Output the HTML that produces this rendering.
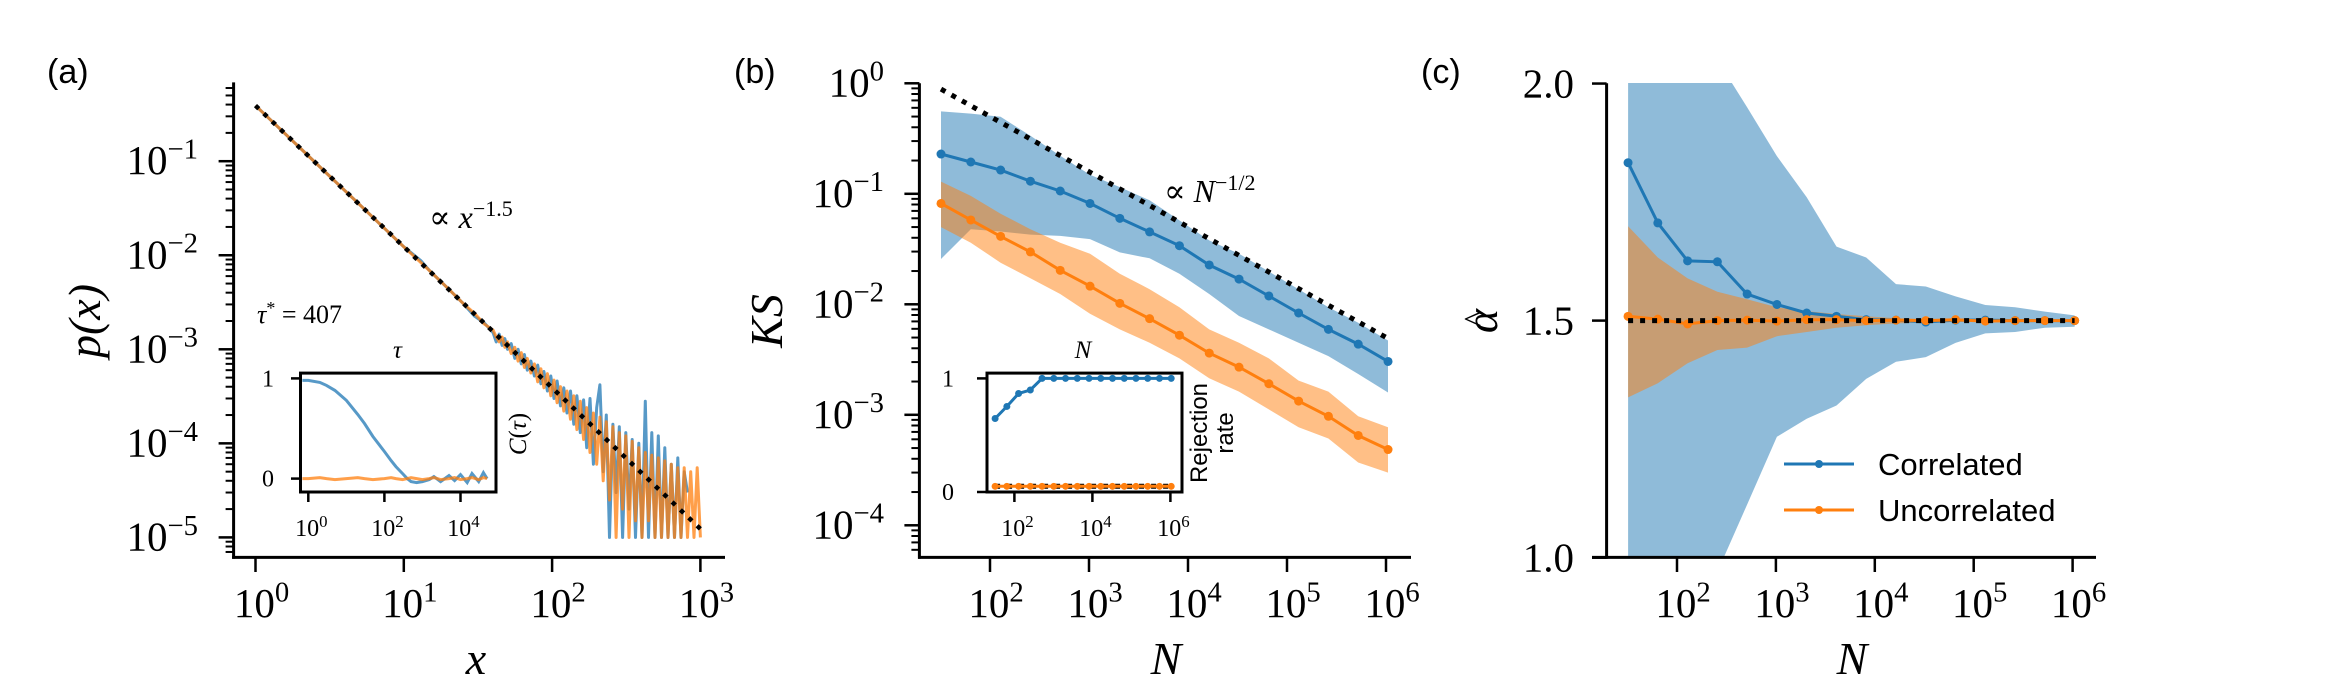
<!DOCTYPE html>
<html><head><meta charset="utf-8">
<style>
html,body{margin:0;padding:0;background:#fff;overflow:hidden;width:2328px;height:698px;}
svg{display:block;}
text{fill:#000;}
.serif{font-family:"Liberation Serif","DejaVu Serif",serif;}
.sans{font-family:"Liberation Sans","DejaVu Sans",sans-serif;}
</style></head>
<body>
<svg id="fig" width="2328" height="698" viewBox="0 0 2328 698" xmlns="http://www.w3.org/2000/svg">
<defs>
<clipPath id="clipA"><rect x="234" y="82" width="491" height="476"/></clipPath>
<clipPath id="clipB"><rect x="920" y="83" width="491" height="475"/></clipPath>
<clipPath id="clipC"><rect x="1607" y="83" width="489" height="475"/></clipPath>
</defs>
</svg>
<script>
// ---------- Panel (a) data ----------
const pX = [1,2,3,5,8,10,13,15,20,25,30,35,40,42,44,46,48,50,53,56,59,62,65,68,72,76,80,84,88,93,98,103,108,114,120,126,133,140,147,155,163,171,180,190,200,210,221,232,244,257,270,284,299,314,330,347,365,384,404,425,447,470,494,520,547,575,605,636,669,704,740,778,818,860,905,951,1000];
const pBlue = [0.39,0.138,0.075,0.0349,0.0172,0.0123,0.0088,0.0068,0.0044,0.0031,0.00225,0.0019,1.5e-3,1.2e-3,1.45e-3,1.1e-3,1.3e-3,1.0e-3,1.15e-3,8.0e-4,1.0e-3,7.0e-4,8.8e-4,6.0e-4,7.5e-4,5.2e-4,6.8e-4,4.3e-4,5.8e-4,3.6e-4,5.2e-4,3.0e-4,4.6e-4,2.5e-4,3.9e-4,2.1e-4,3.6e-4,1.6e-4,3.2e-4,1.3e-4,2.9e-4,9e-5,3.0e-4,6e-5,2.4e-4,4.2e-4,5e-5,2.0e-4,1.0e-5,1.6e-4,3e-5,1.5e-4,1.0e-5,1.3e-4,2e-5,1.1e-4,1.0e-5,1.0e-4,1.0e-5,2.8e-4,1.0e-5,1.3e-4,1.0e-5,1.2e-4,1.0e-5,9e-5,1.0e-5,6e-5,1.0e-5,7e-5,1.0e-5,5e-5,3e-5];
const pOrange = [0.39,0.138,0.075,0.0349,0.0172,0.0123,0.0084,0.0068,0.0044,0.0031,0.0024,0.00185,1.6e-3,1.35e-3,1.2e-3,1.35e-3,1.05e-3,1.2e-3,9.0e-4,1.05e-3,7.5e-4,9.2e-4,6.4e-4,8.0e-4,5.6e-4,7.0e-4,4.5e-4,6.2e-4,3.9e-4,5.5e-4,3.2e-4,4.7e-4,2.7e-4,4.0e-4,2.2e-4,3.6e-4,1.8e-4,3.2e-4,1.4e-4,2.8e-4,1.1e-4,2.4e-4,8e-5,2.1e-4,6e-5,1.9e-4,4e-5,1.7e-4,2.5e-5,1.5e-4,1.0e-5,1.3e-4,2e-5,1.2e-4,1.0e-5,1.05e-4,1.5e-5,9e-5,1.0e-5,8e-5,1.5e-5,7.5e-5,1.0e-5,7e-5,1.0e-5,6.5e-5,1.0e-5,6e-5,1.0e-5,5.5e-5,1.0e-5,5.5e-5,1.0e-5,5e-5,1.0e-5,5.5e-5,1.0e-5];
const fitAX = [1,1000];
const fitAY = [0.39,1.23e-5];
const tauX = [0.7,1,2,3,5,10,20,30,50,100,150,200,300,400,500,700,1000,1500,2000,3000,5000,7000,10000,15000,20000,30000,40000,50000];
const cBlue = [0.98,0.98,0.96,0.93,0.88,0.78,0.64,0.55,0.42,0.27,0.18,0.12,0.05,0.0,-0.03,-0.04,-0.03,-0.01,0.02,-0.03,0.03,-0.02,0.04,-0.04,0.05,-0.03,0.06,0.0];
const cOrange = [0.0,0.0,0.01,0.0,-0.01,0.0,0.01,0.0,-0.01,0.0,0.01,0.0,-0.01,0.0,0.01,0.0,-0.01,0.0,0.01,-0.01,0.0,0.01,-0.01,0.0,0.01,-0.01,0.01,0.0];
const yTicksA = [-1,-2,-3,-4,-5];
const xTicksA = [0,1,2,3];
const tauTicks = [0,2,4];
// ---------- Panel (b)/(c) data ----------
const nVals = [32,64,128,256,512,1024,2048,4096,8192,16384,32768,65536,131072,262144,524288,1048576];
const ksCorr = [0.229,0.194,0.164,0.130,0.106,0.0818,0.060,0.0452,0.0339,0.0227,0.0169,0.0119,0.00835,0.00593,0.00436,0.00304];
const ksCorrHi = [0.557,0.532,0.499,0.335,0.221,0.149,0.115,0.0873,0.0574,0.0379,0.0287,0.0198,0.0137,0.00942,0.00681,0.0047];
const ksCorrLo = [0.0257,0.0478,0.0456,0.0427,0.0416,0.0389,0.0295,0.0261,0.0189,0.0124,0.00783,0.00593,0.00449,0.0034,0.00234,0.00159];
const ksUnc = [0.0818,0.058,0.0412,0.0298,0.0203,0.0146,0.0102,0.00741,0.00525,0.00362,0.0027,0.00191,0.00133,0.00097,0.00065,0.000485];
const ksUncHi = [0.129,0.0957,0.066,0.0478,0.0361,0.0287,0.0189,0.0137,0.00942,0.00593,0.00449,0.00324,0.00204,0.00162,0.00097,0.00077];
const ksUncLo = [0.05,0.0361,0.0238,0.0172,0.0124,0.0082,0.00593,0.00449,0.00324,0.00214,0.00162,0.00112,0.00077,0.00061,0.00037,0.0003];
const ksFitN = [32,1048576];
const ksFit = [0.887,0.0049];
const rejCorr = [0.647,0.753,0.867,0.898,1,1,1,1,1,1,1,1,1,1,1,1];
const rejUnc = [0.05,0.05,0.05,0.05,0.05,0.05,0.05,0.05,0.05,0.05,0.05,0.05,0.05,0.05,0.05,0.05];
const rejRef = [0.05,0.05];
const alphaCorr = [1.833,1.706,1.626,1.624,1.556,1.534,1.516,1.509,1.502,1.501,1.497,1.501,1.501,1.5,1.5,1.5];
const alphaCorrHi = [2.7,2.55,2.4,2.18,1.95,1.847,1.76,1.656,1.633,1.577,1.572,1.551,1.533,1.528,1.519,1.511];
const alphaCorrLo = [0.55,0.69,0.83,0.97,1.112,1.255,1.293,1.321,1.377,1.413,1.423,1.453,1.473,1.476,1.485,1.487];
const alphaUnc = [1.509,1.503,1.493,1.5,1.501,1.499,1.502,1.502,1.5,1.501,1.5,1.502,1.499,1.5,1.5,1.5];
const alphaUncHi = [1.699,1.633,1.589,1.561,1.545,1.528,1.52,1.514,1.509,1.505,1.503,1.502,1.501,1.501,1.5,1.5];
const alphaUncLo = [1.338,1.368,1.41,1.438,1.443,1.467,1.476,1.485,1.49,1.494,1.496,1.497,1.498,1.499,1.499,1.5];
const alphaTrue = [1.5,1.5];
const yTicksB = [0,-1,-2,-3,-4];
const xTicksN = [2,3,4,5,6];
const insetNTicks = [2,4,6];
const yTicksC = [2.0,1.5,1.0];

const BLUE='#1f77b4', ORANGE='#ff7f0e';
const svg=document.getElementById('fig');
const NS='http://www.w3.org/2000/svg';
const L=Math.log10;
function mk(tag,attrs,parent){const e=document.createElementNS(NS,tag);for(const k in attrs)e.setAttribute(k,attrs[k]);(parent||svg).appendChild(e);return e;}
function poly(xs,ys,fx,fy){return xs.map((v,i)=>i<ys.length?fx(v).toFixed(1)+','+fy(ys[i]).toFixed(1):null).filter(Boolean).join(' ');}
function band(xs,lo,hi,fx,fy){const a=xs.map((v,i)=>fx(v).toFixed(1)+','+fy(hi[i]).toFixed(1));const b=xs.map((v,i)=>fx(v).toFixed(1)+','+fy(lo[i]).toFixed(1)).reverse();return a.concat(b).join(' ');}
function pow(parent,x,y,base,exp,size,anchor,cls){const t=mk('text',{x:x,y:y,'font-size':size,'text-anchor':anchor,class:cls||'serif'},parent);t.appendChild(document.createTextNode(base));const s=mk('tspan',{dy:-size*0.38,'font-size':size*0.7},t);s.textContent=exp;return t;}

// scales
const xA=v=>255.5+148.3*L(v), yA=v=>161.2-94.05*(L(v)+1);
const xB=n=>990+99*(L(n)-2), yB=v=>83.3-110.5*L(v);
const xC=n=>1677+98.9*(L(n)-2), yC=a=>320.6-(a-1.5)*474.1;
const yCc=a=>yC(Math.max(0.95,Math.min(2.05,a)));
const xIA=t=>308.3+38.05*L(t), yIA=c=>478.6-100.2*c;
const xIB=n=>1014.4+39*(L(n)-2), yIB=r=>492-113.6*r;
const XTL_Y=617;

// ================= Panel (a) =================
const gA=mk('g',{});


const lblA=mk('text',{x:47,y:83,'font-size':34,class:'sans'},gA);lblA.textContent='(a)';

const gAd=mk('g',{'clip-path':'url(#clipA)'},gA);
const lb=mk('polyline',{points:poly(pX,pBlue,xA,yA),fill:'none',stroke:BLUE,'stroke-width':3,'stroke-opacity':0.75,'stroke-linejoin':'round'},gAd);

const lo=mk('polyline',{points:poly(pX,pOrange,xA,yA),fill:'none',stroke:ORANGE,'stroke-width':3,'stroke-opacity':0.75,'stroke-linejoin':'round'},gAd);

const fa=mk('polyline',{points:poly(fitAX,fitAY,xA,yA),fill:'none',stroke:'#000','stroke-width':4.5,'stroke-dasharray':'4.5 7'},gAd);

mk('line',{x1:233.6,y1:82.4,x2:233.6,y2:558.8,stroke:'#000','stroke-width':3},gA);
mk('line',{x1:232.1,y1:557.4,x2:725,y2:557.4,stroke:'#000','stroke-width':3},gA);
for(let d=-6;d<=0;d++){for(let m=1;m<10;m++){const v=m*Math.pow(10,d);const y=yA(v);if(y<82||y>557.5)continue;mk('line',{x1:233.6,x2:233.6-(m===1?15:8),y1:y,y2:y,stroke:'#000','stroke-width':m===1?2.5:2},gA);}}
yTicksA.forEach(e=>{const t=pow(gA,198,yA(Math.pow(10,e))+13,'10','−'+(-e),41,'end');});
xTicksA.forEach(e=>{const x=xA(Math.pow(10,e));mk('line',{x1:x,x2:x,y1:557.4,y2:572,stroke:'#000','stroke-width':2.5},gA);const t=pow(gA,x+6,XTL_Y,'10',String(e),41,'middle');});
const yla=mk('text',{x:0,y:0,'font-size':46,'font-style':'italic',class:'serif','text-anchor':'middle',transform:'translate(100,321) rotate(-90)'},gA);yla.textContent='p(x)';

const xla=mk('text',{x:476,y:674,'font-size':46,'font-style':'italic',class:'serif','text-anchor':'middle'},gA);xla.textContent='x';

const ann=mk('text',{x:429,y:228,'font-size':32,class:'serif'},gA);ann.textContent='∝ ';const at=mk('tspan',{'font-style':'italic'},ann);at.textContent='x';const as=mk('tspan',{dy:-12,'font-size':22},ann);as.textContent='−1.5';

const tst=mk('text',{x:257,y:323,'font-size':26,class:'serif'},gA);const tt1=mk('tspan',{'font-style':'italic'},tst);tt1.textContent='τ';const tt2=mk('tspan',{dy:-9,'font-size':18},tst);tt2.textContent='*';const tt3=mk('tspan',{dy:9},tst);tt3.textContent=' = 407';

const gIA=mk('g',{},gA);

mk('rect',{x:300.5,y:373.1,width:195.5,height:118.9,fill:'#fff',stroke:'none'},gIA);
const ib=mk('polyline',{points:poly(tauX,cBlue,xIA,yIA),fill:'none',stroke:BLUE,'stroke-width':3,'stroke-opacity':0.75},gIA);

const io=mk('polyline',{points:poly(tauX,cOrange,xIA,yIA),fill:'none',stroke:ORANGE,'stroke-width':3,'stroke-opacity':0.75},gIA);

mk('rect',{x:300.5,y:373.1,width:195.5,height:118.9,fill:'none',stroke:'#000','stroke-width':3},gIA);
[[1,'1'],[0,'0']].forEach(([v,s])=>{const y=yIA(v);mk('line',{x1:300.5,x2:291,y1:y,y2:y,stroke:'#000','stroke-width':2.5},gIA);const t=mk('text',{x:268,y:y+8,'font-size':24,class:'serif','text-anchor':'middle'},gIA);t.textContent=s;});
tauTicks.forEach(e=>{const x=xIA(Math.pow(10,e));mk('line',{x1:x,x2:x,y1:492,y2:502,stroke:'#000','stroke-width':2.5},gIA);const t=pow(gIA,x+3,536,'10',String(e),24,'middle');});
const tl=mk('text',{x:397.5,y:358,'font-size':25,'font-style':'italic',class:'serif','text-anchor':'middle'},gIA);tl.textContent='τ';

const cl=mk('text',{x:0,y:0,'font-size':25,class:'serif','text-anchor':'middle',transform:'translate(526,434) rotate(-90)'},gIA);
const cl1=mk('tspan',{'font-style':'italic'},cl);cl1.textContent='C';const cl2=mk('tspan',{},cl);cl2.textContent='(';const cl3=mk('tspan',{'font-style':'italic'},cl);cl3.textContent='τ';const cl4=mk('tspan',{},cl);cl4.textContent=')';


// ================= Panel (b) =================
const gB=mk('g',{});

const lblB=mk('text',{x:734,y:83,'font-size':34,class:'sans'},gB);lblB.textContent='(b)';

const gBd=mk('g',{'clip-path':'url(#clipB)'},gB);
const bb=mk('polygon',{points:band(nVals,ksCorrLo,ksCorrHi,xB,yB),fill:BLUE,'fill-opacity':0.5},gBd);

const ob=mk('polygon',{points:band(nVals,ksUncLo,ksUncHi,xB,yB),fill:ORANGE,'fill-opacity':0.5},gBd);

const kf=mk('polyline',{points:poly(ksFitN,ksFit,xB,yB),fill:'none',stroke:'#000','stroke-width':5,'stroke-dasharray':'5 7'},gBd);

[[ksCorr,BLUE,'correlated-ks'],[ksUnc,ORANGE,'uncorrelated-ks']].forEach(([arr,c,n])=>{
  const p=mk('polyline',{points:poly(nVals,arr,xB,yB),fill:'none',stroke:c,'stroke-width':3},gBd);
  
  nVals.forEach((v,i)=>{const d=mk('circle',{cx:xB(v),cy:yB(arr[i]),r:4.5,fill:c},gBd);});
});
mk('line',{x1:919.4,y1:83.3,x2:919.4,y2:558.8,stroke:'#000','stroke-width':3},gB);
mk('line',{x1:918,y1:557.4,x2:1411,y2:557.4,stroke:'#000','stroke-width':3},gB);
for(let d=-5;d<=0;d++){for(let m=1;m<10;m++){const v=m*Math.pow(10,d);const y=yB(v);if(y<83||y>557.5)continue;mk('line',{x1:919.4,x2:919.4-(m===1?15:8),y1:y,y2:y,stroke:'#000','stroke-width':m===1?2.5:2},gB);}}
yTicksB.forEach(e=>{const t=pow(gB,884,yB(Math.pow(10,e))+13,'10',e===0?'0':'−'+(-e),41,'end');});
xTicksN.forEach(e=>{const x=xB(Math.pow(10,e));mk('line',{x1:x,x2:x,y1:557.4,y2:572,stroke:'#000','stroke-width':2.5},gB);const t=pow(gB,x+6,XTL_Y,'10',String(e),41,'middle');});
const ylb=mk('text',{x:0,y:0,'font-size':46,'font-style':'italic',class:'serif','text-anchor':'middle',transform:'translate(782,321) rotate(-90)'},gB);ylb.textContent='KS';

const xlb=mk('text',{x:1166,y:674,'font-size':46,'font-style':'italic',class:'serif','text-anchor':'middle'},gB);xlb.textContent='N';

const annb=mk('text',{x:1164,y:202,'font-size':32,class:'serif'},gB);annb.textContent='∝ ';const bt=mk('tspan',{'font-style':'italic'},annb);bt.textContent='N';const bs=mk('tspan',{dy:-12,'font-size':22},annb);bs.textContent='−1/2';

const gIB=mk('g',{},gB);

mk('rect',{x:987,y:373.1,width:195,height:118.9,fill:'#fff',stroke:'none'},gIB);
const rr=mk('polyline',{points:poly([32,1048576],rejRef,xIB,yIB),fill:'none',stroke:'#000','stroke-width':5,'stroke-dasharray':'5 7'},gIB);

[[rejCorr,BLUE,'correlated-rejection'],[rejUnc,ORANGE,'uncorrelated-rejection']].forEach(([arr,c,n])=>{
  const p=mk('polyline',{points:poly(nVals,arr,xIB,yIB),fill:'none',stroke:c,'stroke-width':3},gIB);
  
  nVals.forEach((v,i)=>{const d=mk('circle',{cx:xIB(v),cy:yIB(arr[i]),r:3.5,fill:c},gIB);});
});
mk('rect',{x:987,y:373.1,width:195,height:118.9,fill:'none',stroke:'#000','stroke-width':3},gIB);
[[1,'1'],[0,'0']].forEach(([v,s])=>{const y=yIB(v);mk('line',{x1:987,x2:977,y1:y,y2:y,stroke:'#000','stroke-width':2.5},gIB);const t=mk('text',{x:948,y:y+8,'font-size':24,class:'serif','text-anchor':'middle'},gIB);t.textContent=s;});
insetNTicks.forEach(e=>{const x=xIB(Math.pow(10,e));mk('line',{x1:x,x2:x,y1:492,y2:502,stroke:'#000','stroke-width':2.5},gIB);const t=pow(gIB,x+3,536,'10',String(e),24,'middle');});
const nl=mk('text',{x:1083,y:358,'font-size':25,'font-style':'italic',class:'serif','text-anchor':'middle'},gIB);nl.textContent='N';

const rl=mk('text',{x:0,y:0,'font-size':24,class:'sans','text-anchor':'middle',transform:'translate(1207,433) rotate(-90)'},gIB);rl.textContent='Rejection';

const rl2=mk('text',{x:0,y:0,'font-size':24,class:'sans','text-anchor':'middle',transform:'translate(1233,433) rotate(-90)'},gIB);rl2.textContent='rate';


// ================= Panel (c) =================
const gC=mk('g',{});

const lblC=mk('text',{x:1421,y:83,'font-size':34,class:'sans'},gC);lblC.textContent='(c)';

const gCd=mk('g',{'clip-path':'url(#clipC)'},gC);
const cb=mk('polygon',{points:band(nVals,alphaCorrLo,alphaCorrHi,xC,yCc),fill:BLUE,'fill-opacity':0.5},gCd);

const cob=mk('polygon',{points:band(nVals,alphaUncLo,alphaUncHi,xC,yCc),fill:ORANGE,'fill-opacity':0.5},gCd);

[[alphaCorr,BLUE,'correlated-alpha'],[alphaUnc,ORANGE,'uncorrelated-alpha']].forEach(([arr,c,n])=>{
  const p=mk('polyline',{points:poly(nVals,arr,xC,yC),fill:'none',stroke:c,'stroke-width':3},gCd);
  
  nVals.forEach((v,i)=>{const d=mk('circle',{cx:xC(v),cy:yC(arr[i]),r:4.5,fill:c},gCd);});
});
const tr=mk('polyline',{points:poly([32,1048576],alphaTrue,xC,yC),fill:'none',stroke:'#000','stroke-width':5,'stroke-dasharray':'5 7'},gCd);

mk('line',{x1:1606.6,y1:83.3,x2:1606.6,y2:558.8,stroke:'#000','stroke-width':3},gC);
mk('line',{x1:1592,y1:557.4,x2:2096,y2:557.4,stroke:'#000','stroke-width':3},gC);
yTicksC.forEach(v=>{const y=yC(v);mk('line',{x1:1606.6,x2:1592,y1:y,y2:y,stroke:'#000','stroke-width':2.5},gC);const t=mk('text',{x:1574,y:y+14,'font-size':41,class:'serif','text-anchor':'end'},gC);t.textContent=v.toFixed(1);});
xTicksN.forEach(e=>{const x=xC(Math.pow(10,e));mk('line',{x1:x,x2:x,y1:557.4,y2:572,stroke:'#000','stroke-width':2.5},gC);const t=pow(gC,x+6,XTL_Y,'10',String(e),41,'middle');});
const ylcg=mk('g',{transform:'translate(1497,321) rotate(-90)'},gC);

const ylc=mk('text',{x:0,y:0,'font-size':46,'font-style':'italic',class:'serif','text-anchor':'middle'},ylcg);ylc.textContent='α';
const ylh=mk('text',{x:2,y:-10,'font-size':34,class:'serif','text-anchor':'middle'},ylcg);ylh.textContent='^';
const xlc=mk('text',{x:1852,y:674,'font-size':46,'font-style':'italic',class:'serif','text-anchor':'middle'},gC);xlc.textContent='N';

const lg=mk('g',{},gC);

[['Correlated',BLUE,464],['Uncorrelated',ORANGE,510]].forEach(([s,c,y])=>{
  const e=mk('g',{},lg);
  
  mk('line',{x1:1784,x2:1854,y1:y,y2:y,stroke:c,'stroke-width':3},e);
  mk('circle',{cx:1819,cy:y,r:4,fill:c},e);
  const t=mk('text',{x:1878,y:y+11,'font-size':31,class:'sans'},e);t.textContent=s;
});
</script>
</body></html>
